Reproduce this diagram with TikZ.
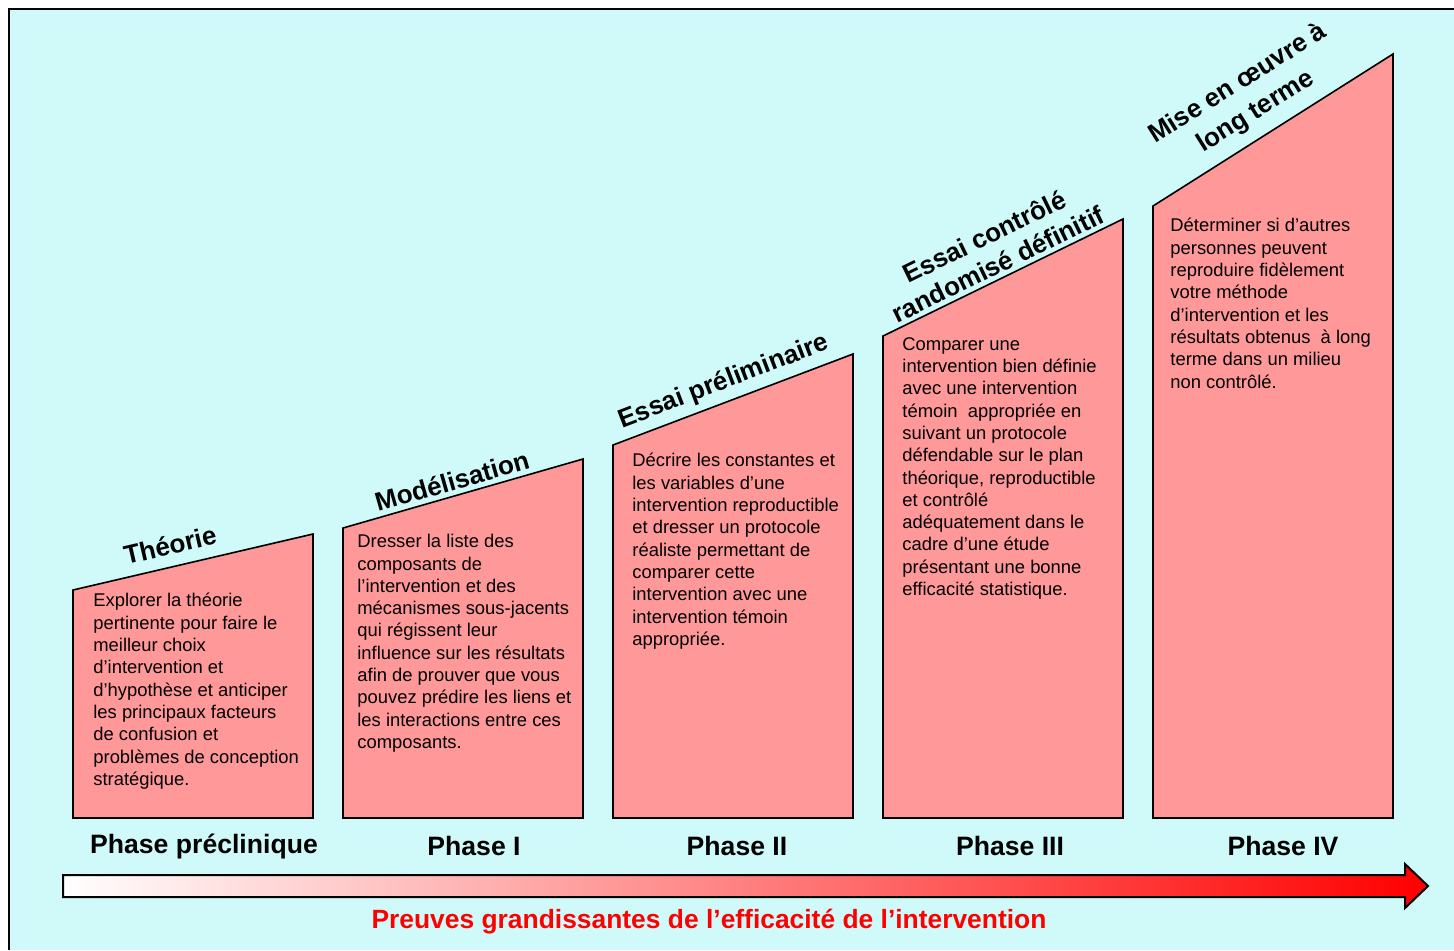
\documentclass[tikz,border=0pt]{standalone}
\usepackage{fontspec}
\setmainfont{Liberation Sans}
\usetikzlibrary{positioning}
\usepackage{xcolor}
\definecolor{stepred}{RGB}{255,153,153}
\definecolor{gridcyan}{RGB}{208,250,250}
\definecolor{evidred}{RGB}{255,0,0}

\tikzset{
  phasebox/.style={draw=black, line width=0.8pt, fill=stepred},
  boxtext/.style={anchor=north west, align=left, inner sep=0pt, font=\fontsize{9.2}{11.15}\selectfont},
  boxtitle/.style={align=center, font=\bfseries\fontsize{13}{15.5}\selectfont},
  phaselabel/.style={font=\bfseries\fontsize{13.3}{15}\selectfont}
}

\begin{document}
\begin{tikzpicture}[x=0.5pt, y=-0.5pt]
    \useasboundingbox (0,0) rectangle (1454,950);
    % Background
    \fill[gridcyan] (9,9) rectangle (1454,950);
    \draw[line width=1.2pt] (9,950) -- (9,9) -- (1454,9);

    % Preclinical phase
    \draw[phasebox] (73,818) -- (73,590) -- (313,534) -- (313,818) -- cycle;
    \node[boxtitle, rotate=13] (theo) at (170,545) {Théorie};
    \node[boxtext] (theotxt) at (93,593) {Explorer la théorie\\pertinente pour faire le\\meilleur choix\\d’intervention et\\d’hypothèse et anticiper\\les principaux facteurs\\de confusion et\\problèmes de conception\\stratégique.};

    % Phase I
    \draw[phasebox] (343,818) -- (343,528) -- (583,459) -- (583,818) -- cycle;
    \node[boxtitle, rotate=16] (model) at (452,481) {Modélisation};
    \node[boxtext] (modeltxt) at (357,534) {Dresser la liste des\\composants de\\l’intervention et des\\mécanismes sous-jacents\\qui régissent leur\\influence sur les résultats\\afin de prouver que vous\\pouvez prédire les liens et\\les interactions entre ces\\composants.};

    % Phase II
    \draw[phasebox] (613,818) -- (613,445) -- (853,354) -- (853,818) -- cycle;
    \node[boxtitle, rotate=21] (prelim) at (724,382) {Essai préliminaire};
    \node[boxtext] (prelimtxt) at (632,453) {Décrire les constantes et\\les variables d’une\\intervention reproductible\\et dresser un protocole\\réaliste permettant de\\comparer cette\\intervention avec une\\intervention témoin\\appropriée.};

    % Phase III
    \draw[phasebox] (883,818) -- (883,336) -- (1123,219) -- (1123,818) -- cycle;
    \node[boxtitle, rotate=26] (rct) at (991,250) {Essai contrôlé\\randomisé définitif};
    \node[boxtext] (rcttxt) at (902,337) {Comparer une\\intervention bien définie\\avec une intervention\\témoin\ \ appropriée en\\suivant un protocole\\défendable sur le plan\\théorique, reproductible\\et contrôlé\\adéquatement dans le\\cadre d’une étude\\présentant une bonne\\efficacité statistique.};

    % Phase IV
    \draw[phasebox] (1153,818) -- (1153,206) -- (1393,54) -- (1393,818) -- cycle;
    \node[boxtitle, rotate=32, font=\bfseries\fontsize{13}{16.5}\selectfont] (impl) at (1247,98) {Mise en œuvre à\\long terme};
    \node[boxtext] (impltxt) at (1170,218) {Déterminer si d’autres\\personnes peuvent\\reproduire fidèlement\\votre méthode\\d’intervention et les\\résultats obtenus\ \ à long\\terme dans un milieu\\non contrôlé.};

    % Phase labels
    \node[phaselabel] (ph0) at (204,846) {Phase préclinique};
    \node[phaselabel] (ph1) at (474,846) {Phase I};
    \node[phaselabel] (ph2) at (737,846) {Phase II};
    \node[phaselabel] (ph3) at (1010,846) {Phase III};
    \node[phaselabel] (ph4) at (1283,846) {Phase IV};

    % Evidence arrow
    \shade[left color=white, right color=evidred, draw=black, line width=1pt]
      (63,875) -- (1405,875) -- (1405,864) -- (1428,886) -- (1405,908) -- (1405,897) -- (63,897) -- cycle;
    \node[text=evidred, font=\bfseries\fontsize{13.2}{15}\selectfont] (evid) at (709,922) {Preuves grandissantes de l’efficacité de l’intervention};
\end{tikzpicture}
\end{document}
